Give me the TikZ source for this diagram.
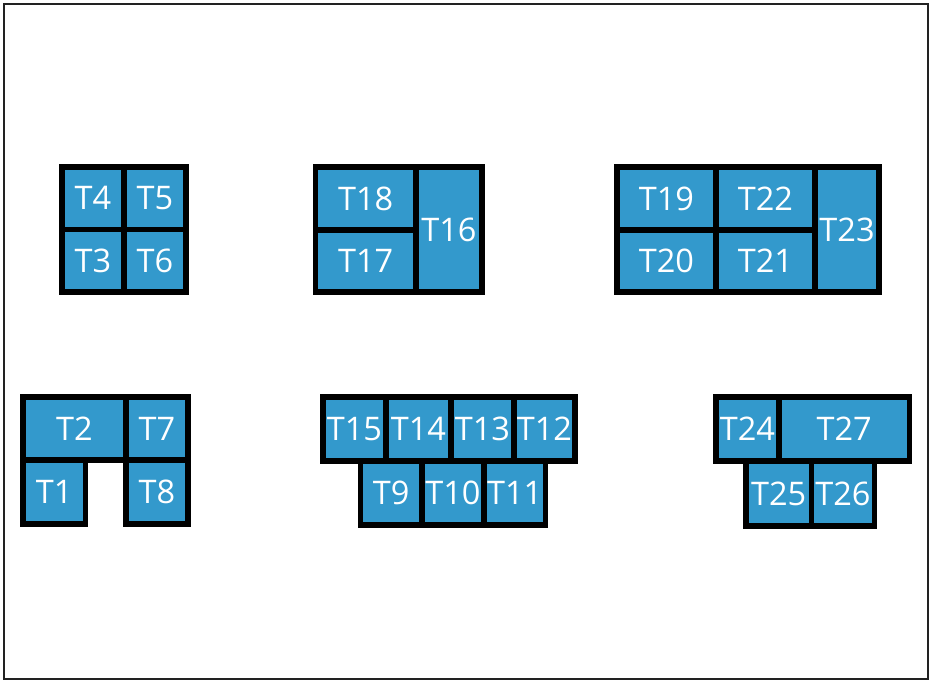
\documentclass[tikz,border=0pt]{standalone}
\usepackage{fontspec}
\setmainfont{Open Sans}
\usepackage{tikz}
\definecolor{tilefill}{HTML}{3399CC}
\definecolor{framegray}{HTML}{222222}

\begin{document}
\begin{tikzpicture}[x=1pt, y=-1pt,
    tile/.style={draw=black, line width=5.5pt, fill=tilefill, text=white, inner sep=0pt,
                 font=\fontsize{32.5}{32.5}\selectfont}]
    \useasboundingbox (0,0) rectangle (929,680);
    \draw[framegray, line width=2.5pt] (4,4) rectangle (927.8,678.8);

    \node[tile, minimum width=62pt, minimum height=62.5pt] (t4) at (93,198.25) {T4};
    \node[tile, minimum width=62pt, minimum height=62.5pt] (t5) at (155,198.25) {T5};
    \node[tile, minimum width=62pt, minimum height=62.5pt] (t3) at (93,260.75) {T3};
    \node[tile, minimum width=62pt, minimum height=62.5pt] (t6) at (155,260.75) {T6};

    \node[tile, minimum width=100.5pt, minimum height=63pt] (t18) at (365.75,198.5) {T18};
    \node[tile, minimum width=100.5pt, minimum height=62pt] (t17) at (365.75,261) {T17};
    \node[tile, minimum width=66pt, minimum height=125pt] (t16) at (449,229.5) {T16};

    \node[tile, minimum width=99pt, minimum height=63pt] (t19) at (666.5,198.5) {T19};
    \node[tile, minimum width=99pt, minimum height=63pt] (t22) at (765.5,198.5) {T22};
    \node[tile, minimum width=99pt, minimum height=62pt] (t20) at (666.5,261) {T20};
    \node[tile, minimum width=99pt, minimum height=62pt] (t21) at (765.5,261) {T21};
    \node[tile, minimum width=64pt, minimum height=125pt] (t23) at (847,229.5) {T23};

    \node[tile, minimum width=103pt, minimum height=63pt] (t2) at (74.5,428.5) {T2};
    \node[tile, minimum width=62pt, minimum height=63pt] (t7) at (157,428.5) {T7};
    \node[tile, minimum width=62.5pt, minimum height=64pt] (t1) at (54.25,492) {T1};
    \node[tile, minimum width=62pt, minimum height=64pt] (t8) at (157,492) {T8};

    \node[tile, minimum width=63pt, minimum height=64pt] (t15) at (354.5,429) {T15};
    \node[tile, minimum width=65pt, minimum height=64pt] (t14) at (418.5,429) {T14};
    \node[tile, minimum width=63pt, minimum height=64pt] (t13) at (482.5,429) {T13};
    \node[tile, minimum width=61pt, minimum height=64pt] (t12) at (544.5,429) {T12};
    \node[tile, minimum width=61.5pt, minimum height=64pt] (t9) at (391.25,493) {T9};
    \node[tile, minimum width=62pt, minimum height=64pt] (t10) at (453,493) {T10};
    \node[tile, minimum width=61.5pt, minimum height=64pt] (t11) at (514.75,493) {T11};

    \node[tile, minimum width=63pt, minimum height=64pt] (t24) at (747.5,429) {T24};
    \node[tile, minimum width=130.5pt, minimum height=64pt] (t27) at (844.25,429) {T27};
    \node[tile, minimum width=65.5pt, minimum height=65pt] (t25) at (778.75,493.5) {T25};
    \node[tile, minimum width=63pt, minimum height=65pt] (t26) at (843,493.5) {T26};
\end{tikzpicture}
\end{document}
